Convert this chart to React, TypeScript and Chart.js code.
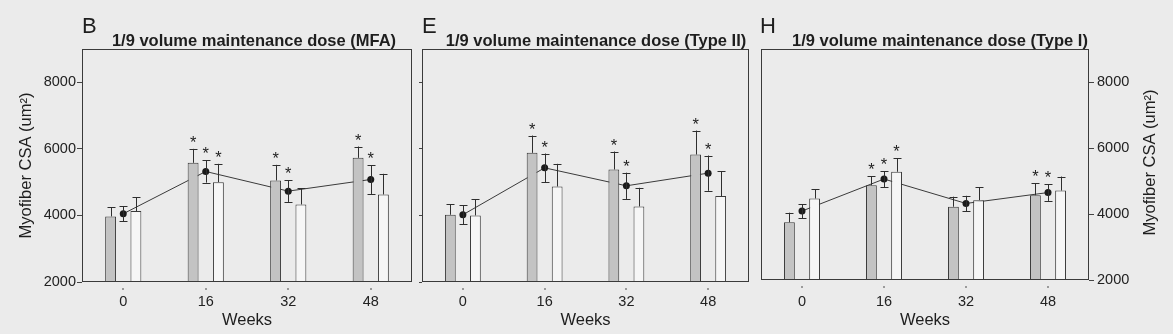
import React, { useEffect, useRef } from 'react';
import { Chart, registerables } from 'chart.js';

Chart.register(...registerables);

const FONT = '"Liberation Sans", Arial, Helvetica, sans-serif';

// ---------- data ----------
const weeks = ['0', '16', '32', '48'];
const yTickValues = [2000, 4000, 6000, 8000];
const yTitle = 'Myofiber CSA (um\u00B2)';

// Panel B: MFA
const mfaGray = [3970, 5580, 5050, 5730];
const mfaGrayErr = [280, 420, 470, 340];
const mfaMean = [4050, 5320, 4730, 5080];
const mfaMeanErr = [230, 335, 325, 435];
const mfaWhite = [4130, 5000, 4330, 4630];
const mfaWhiteErr = [420, 550, 490, 620];
const mfaStarGray = [false, true, true, true];
const mfaStarMean = [false, true, true, true];
const mfaStarWhite = [false, true, false, false];

// Panel E: Type II
const t2Gray = [4020, 5880, 5380, 5830];
const t2GrayErr = [320, 520, 540, 720];
const t2Mean = [4020, 5430, 4890, 5270];
const t2MeanErr = [280, 430, 395, 530];
const t2White = [4000, 4870, 4270, 4580];
const t2WhiteErr = [490, 680, 560, 750];
const t2StarGray = [false, true, true, true];
const t2StarMean = [false, true, true, true];
const t2StarWhite = [false, false, false, false];

// Panel H: Type I
const t1Gray = [3750, 4870, 4220, 4570];
const t1GrayErr = [290, 280, 305, 355];
const t1Mean = [4090, 5060, 4320, 4650];
const t1MeanErr = [212, 243, 232, 253];
const t1White = [4470, 5280, 4420, 4710];
const t1WhiteErr = [275, 405, 385, 425];
const t1StarGray = [false, true, false, true];
const t1StarMean = [false, true, false, true];
const t1StarWhite = [false, true, false, false];

// ---------- plugins ----------
const errorBarPlugin = {
  id: 'errBars',
  afterDatasetsDraw(chart: any) {
    const { ctx } = chart;
    const ys = chart.scales.y;
    ctx.save();
    ctx.strokeStyle = '#2e2e2e';
    ctx.fillStyle = '#1e1e1e';
    ctx.lineWidth = 1;
    chart.data.datasets.forEach((ds: any, di: number) => {
      if (!ds.errors) return;
      const meta = chart.getDatasetMeta(di);
      meta.data.forEach((el: any, i: number) => {
        const v = ds.data[i];
        if (v == null) return;
        const x = Math.round(el.x) + 0.5;
        const top = ys.getPixelForValue(v + ds.errors[i]);
        const isLine = ds.type === 'line';
        const base = isLine ? ys.getPixelForValue(v - ds.errors[i]) : el.y;
        const cap = 4;
        ctx.beginPath();
        ctx.moveTo(x, base);
        ctx.lineTo(x, top);
        ctx.moveTo(x - cap, Math.round(top) + 0.5);
        ctx.lineTo(x + cap, Math.round(top) + 0.5);
        if (isLine) {
          ctx.moveTo(x - cap, Math.round(base) + 0.5);
          ctx.lineTo(x + cap, Math.round(base) + 0.5);
        }
        ctx.stroke();
        if (ds.stars && ds.stars[i]) {
          ctx.font = `16.5px ${FONT}`;
          ctx.textAlign = 'center';
          ctx.textBaseline = 'alphabetic';
          ctx.fillText('*', el.x, top - 1);
        }
      });
    });
    ctx.restore();
  },
};

const decorPlugin = {
  id: 'decor',
  afterDraw(chart: any, _args: any, opts: any) {
    const { ctx, chartArea: a } = chart;
    ctx.save();
    // frame
    const l = Math.round(a.left) + 0.5;
    const t = Math.round(a.top) + 0.5;
    const r = Math.round(a.right) - 0.5;
    const b = Math.round(a.bottom) - 0.5;
    ctx.strokeStyle = '#3a3a3a';
    ctx.lineWidth = 1;
    ctx.strokeRect(l, t, r - l, b - t);
    // small marks under categories
    const xs = chart.scales.x;
    ctx.fillStyle = '#9a9a9a';
    xs.ticks.forEach((_t: any, i: number) => {
      const px = xs.getPixelForTick(i);
      ctx.fillRect(Math.round(px) - 1, Math.round(a.bottom) + 6, 2, 2);
    });
    // letter
    ctx.fillStyle = '#1e1e1e';
    ctx.textAlign = 'left';
    ctx.textBaseline = 'alphabetic';
    ctx.font = `22px ${FONT}`;
    ctx.fillText(opts.letter, opts.letterX, 33);
    // title
    ctx.font = `bold 16.5px ${FONT}`;
    ctx.textAlign = 'center';
    ctx.fillText(opts.title, opts.titleX, 46);
    // right-side y title
    if (opts.rightTitle) {
      const ys = chart.scales.y;
      ctx.translate(ys.right - 14, (a.top + a.bottom) / 2 - 2);
      ctx.rotate(-Math.PI / 2);
      ctx.font = `16.5px ${FONT}`;
      ctx.textAlign = 'center';
      ctx.textBaseline = 'middle';
      ctx.fillText(yTitle, 0, 0);
    }
    ctx.restore();
  },
};

type PanelCfg = {
  left: number;
  width: number;
  padLeft: number;
  padRight: number;
  yWidth: number;
  xHeight: number;
  yMode: 'left' | 'ticksOnly' | 'right';
  letter: string;
  letterX: number;
  title: string;
  titleX: number;
  gray: number[];
  grayErr: number[];
  mean: number[];
  meanErr: number[];
  white: number[];
  whiteErr: number[];
  starGray: boolean[];
  starMean: boolean[];
  starWhite: boolean[];
};

const panels: PanelCfg[] = [
  {
    left: 0, width: 418, padLeft: 13, padRight: 6, yWidth: 69, xHeight: 52, yMode: 'left',
    letter: 'B', letterX: 82, title: '1/9 volume maintenance dose (MFA)', titleX: 254,
    gray: mfaGray, grayErr: mfaGrayErr, mean: mfaMean, meanErr: mfaMeanErr,
    white: mfaWhite, whiteErr: mfaWhiteErr,
    starGray: mfaStarGray, starMean: mfaStarMean, starWhite: mfaStarWhite,
  },
  {
    left: 418, width: 337, padLeft: 0, padRight: 6, yWidth: 3, xHeight: 52, yMode: 'ticksOnly',
    letter: 'E', letterX: 4, title: '1/9 volume maintenance dose (Type II)', titleX: 178,
    gray: t2Gray, grayErr: t2GrayErr, mean: t2Mean, meanErr: t2MeanErr,
    white: t2White, whiteErr: t2WhiteErr,
    starGray: t2StarGray, starMean: t2StarMean, starWhite: t2StarWhite,
  },
  {
    left: 755, width: 418, padLeft: 6, padRight: 9, yWidth: 75, xHeight: 54, yMode: 'right',
    letter: 'H', letterX: 5, title: '1/9 volume maintenance dose (Type I)', titleX: 185,
    gray: t1Gray, grayErr: t1GrayErr, mean: t1Mean, meanErr: t1MeanErr,
    white: t1White, whiteErr: t1WhiteErr,
    starGray: t1StarGray, starMean: t1StarMean, starWhite: t1StarWhite,
  },
];

function Panel({ cfg }: { cfg: PanelCfg }) {
  const ref = useRef<HTMLCanvasElement>(null);
  useEffect(() => {
    const tickFont = { family: FONT, size: 14.5 };
    const titleFont = { family: FONT, size: 16.5 };
    const yScale: any = {
      type: 'linear',
      position: cfg.yMode === 'right' ? 'right' : 'left',
      min: 2000,
      max: 9000,
      afterBuildTicks: (s: any) => {
        s.ticks = yTickValues.map((v) => ({ value: v }));
      },
      afterFit: (s: any) => {
        s.width = cfg.yWidth;
      },
      grid: {
        display: true,
        drawOnChartArea: false,
        drawTicks: true,
        tickLength: cfg.yMode === 'ticksOnly' ? 3 : 5,
        color: '#444',
      },
      border: { display: false },
      ticks: {
        display: cfg.yMode !== 'ticksOnly',
        font: tickFont,
        color: '#222',
        padding: cfg.yMode === 'right' ? 3 : 1,
        callback: (v: any) => String(v),
      },
      title: {
        display: cfg.yMode === 'left',
        text: yTitle,
        font: titleFont,
        color: '#1e1e1e',
        padding: { top: 4, bottom: 4 },
      },
    };

    const chart = new Chart(ref.current as HTMLCanvasElement, {
      type: 'bar',
      data: {
        labels: weeks,
        datasets: [
          {
            type: 'line',
            data: cfg.mean,
            errors: cfg.meanErr,
            stars: cfg.starMean,
            borderColor: '#3a3a3a',
            borderWidth: 1,
            pointRadius: 3.5,
            pointBackgroundColor: '#1a1a1a',
            pointBorderColor: '#1a1a1a',
            pointBorderWidth: 0,
            order: 3,
            tension: 0,
          } as any,
          {
            type: 'bar',
            data: cfg.gray,
            errors: cfg.grayErr,
            stars: cfg.starGray,
            backgroundColor: '#c3c3c3',
            borderColor: '#3a3a3a',
            borderWidth: 1,
            order: 1,
          } as any,
          {
            type: 'bar',
            data: weeks.map(() => null),
            backgroundColor: 'rgba(0,0,0,0)',
            order: 1,
          } as any,
          {
            type: 'bar',
            data: cfg.white,
            errors: cfg.whiteErr,
            stars: cfg.starWhite,
            backgroundColor: '#f6f6f6',
            borderColor: '#3a3a3a',
            borderWidth: 1,
            order: 1,
          } as any,
        ],
      },
      options: {
        responsive: false,
        animation: false,
        devicePixelRatio: 1,
        layout: { padding: { top: 49, bottom: 0, left: cfg.padLeft, right: cfg.padRight } },
        datasets: {
          bar: { categoryPercentage: 0.46, barPercentage: 0.86 },
        },
        plugins: {
          legend: { display: false },
          tooltip: { enabled: false },
          decor: {
            letter: cfg.letter,
            letterX: cfg.letterX,
            title: cfg.title,
            titleX: cfg.titleX,
            rightTitle: cfg.yMode === 'right',
          },
        } as any,
        scales: {
          x: {
            type: 'category',
            offset: true,
            grid: { display: false, drawTicks: false },
            border: { display: false },
            ticks: { font: tickFont, color: '#222', padding: cfg.xHeight - 41 },
            title: {
              display: true,
              text: 'Weeks',
              font: titleFont,
              color: '#1e1e1e',
              padding: { top: 0, bottom: 4 },
            },
            afterFit: (s: any) => {
              s.height = cfg.xHeight;
            },
          },
          y: yScale,
        },
      } as any,
      plugins: [errorBarPlugin, decorPlugin],
    });
    return () => chart.destroy();
  }, [cfg]);

  return (
    <canvas
      ref={ref}
      width={cfg.width}
      height={334}
      style={{ position: 'absolute', left: cfg.left, top: 0, width: cfg.width, height: 334 }}
    />
  );
}

export default function App() {
  return (
    <div
      style={{
        position: 'fixed',
        left: 0,
        top: 0,
        width: 1173,
        height: 334,
        background: '#ebebeb',
        overflow: 'hidden',
      }}
    >
      {panels.map((p) => (
        <Panel key={p.letter} cfg={p} />
      ))}
    </div>
  );
}
